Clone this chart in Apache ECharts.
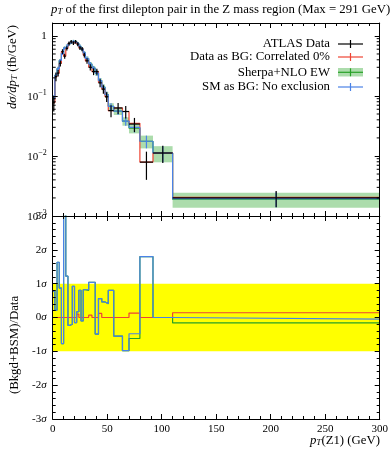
<!DOCTYPE html>
<html><head><meta charset="utf-8">
<script src="https://cdn.jsdelivr.net/npm/echarts@6/dist/echarts.min.js"></script>
<style>html,body{margin:0;padding:0;background:#fff}#c{width:392px;height:450px}</style>
</head><body><div id="c"></div>
<script>
// ---- data ----
const binEdges = [0,2,4,6,8,10,12,14,16,18,20,22,24,26,28,30,33,36,39,42,45,48,51,56,64,70,80,92,110,300];
const dataValues = [0.077,0.21,0.24,0.35,0.55,0.46,0.62,0.75,0.80,0.76,0.80,0.73,0.63,0.605,0.48,0.385,0.30,0.255,0.255,0.165,0.13,0.097,0.057,0.063,0.055,0.034,0.0079,0.0112,0.0020];
const dataErrors = [0.022,0.035,0.03,0.04,0.05,0.045,0.05,0.055,0.055,0.055,0.055,0.055,0.05,0.05,0.045,0.04,0.036,0.033,0.03,0.025,0.021,0.018,0.013,0.013,0.013,0.009,0.0039,0.0036,0.0006];
const dataAsBGValues = [0.077,0.21,0.24,0.35,0.55,0.46,0.62,0.75,0.80,0.76,0.80,0.735,0.63,0.605,0.48,0.385,0.302,0.255,0.255,0.168,0.13,0.097,0.057,0.063,0.055,0.035,0.0079,0.0112,0.00205];
const sherpaValues = [0.093,0.22,0.285,0.39,0.51,0.63,0.68,0.74,0.79,0.81,0.79,0.74,0.67,0.60,0.52,0.42,0.34,0.29,0.24,0.18,0.14,0.105,0.067,0.056,0.038,0.029,0.0176,0.0112,0.0019];
const sherpaRelErr = [0.1,0.08,0.07,0.06,0.06,0.06,0.06,0.06,0.06,0.06,0.06,0.06,0.07,0.07,0.07,0.08,0.08,0.09,0.1,0.1,0.11,0.12,0.13,0.14,0.16,0.18,0.24,0.3,0.28];
const smValues = [0.093,0.22,0.285,0.39,0.51,0.63,0.68,0.74,0.79,0.81,0.79,0.74,0.67,0.60,0.52,0.42,0.34,0.29,0.24,0.18,0.14,0.105,0.067,0.056,0.038,0.030,0.0176,0.0112,0.00195];
const smRelErr = [0.1,0.08,0.07,0.06,0.06,0.06,0.06,0.06,0.06,0.06,0.06,0.06,0.07,0.07,0.07,0.08,0.08,0.09,0.1,0.1,0.11,0.12,0.13,0.14,0.16,0.18,0.24,0.3,0.28];
const sigmaDataBG = [0,0,0,0,0,0,0,0,0,0,0,0.1,0,0,0,0,0.07,0,0,0.12,0,0,0,0,0,0.13,0,0,0.14];
const sigmaSherpa = [0.78,0.22,1.63,0.87,-0.77,3.6,1.22,-0.23,-0.2,0.92,-0.15,0.17,0.8,-0.1,0.82,0.8,1.04,1.04,-0.49,0.56,0.46,0.41,0.8,-0.55,-0.98,-0.62,1.8,0.0,-0.16];
const sigmaSM = [0.78,0.22,1.63,0.87,-0.77,3.6,1.22,-0.23,-0.2,0.92,-0.15,0.17,0.8,-0.1,0.82,0.82,1.04,1.04,-0.49,0.56,0.46,0.41,0.8,-0.55,-0.98,-0.48,1.8,0.0,-0.05];
const xTicks = [0,50,100,150,200,250,300];
const sigmaTicks = [-3,-2,-1,0,1,2,3];
const minorLogTicks = [0.002,0.003,0.004,0.005,0.006,0.007,0.008,0.009,0.02,0.03,0.04,0.05,0.06,0.07,0.08,0.09,0.2,0.3,0.4,0.5,0.6,0.7,0.8,0.9];

const FONT = 'Liberation Serif';
const FS = 12.8;
const C_BLUE = '#4a82e6', C_RED = '#ee4433', C_GREEN = '#27a127', C_BAND = '#acdcac';

function stepData(vals){ return binEdges.map((e,i)=>[e, vals[Math.min(i, vals.length-1)]]); }
function stepSeries(vals, color, xi, yi, z){
  return {type:'line', step:'end', xAxisIndex:xi, yAxisIndex:yi, data:stepData(vals), symbol:'none',
    lineStyle:{color:color, width:1.2}, itemStyle:{color:color}, z:z, silent:true, animation:false, clip:true};
}
const binsItems = (vals, rel) => vals.map((v,i)=>[binEdges[i], binEdges[i+1], v, v*(1-rel[i]), v*(1+rel[i])]);

const chart = echarts.init(document.getElementById('c'), null, {renderer:'canvas'});

const axisLine = {show:true, onZero:false, lineStyle:{color:'#000', width:1}};
function xAx(grid, pos, labels){
  return {gridIndex:grid, type:'value', min:0, max:300, interval:50, position:pos, z:10,
    axisLine:axisLine, axisTick:{show:true, inside:true, length:5, lineStyle:{color:'#000'}},
    minorTick:{show:true, splitNumber:5, length:3, lineStyle:{color:'#000'}},
    splitLine:{show:false}, minorSplitLine:{show:false},
    axisLabel:{show:labels, color:'#000', fontFamily:FONT, fontSize:11, margin:5,
      formatter: v => xTicks.indexOf(v) >= 0 ? String(v) : ''}};
}
function logAx(pos, labels){
  return {gridIndex:0, type:'log', logBase:10, min:0.001, max:1.64, position:pos, z:10,
    axisLine:axisLine, axisTick:{show:true, inside:true, length:5, lineStyle:{color:'#000'}},
    splitLine:{show:false},
    axisLabel:{show:labels, color:'#000', fontFamily:FONT, fontSize:11, margin:6,
      formatter: function(v){
        const l = Math.log10(v), e = Math.round(l);
        if (Math.abs(l-e) > 1e-6) return '';
        if (e === 0) return '1';
        return '{b|10}{s|\u2212' + (-e) + '}';
      },
      rich:{b:{fontFamily:FONT, fontSize:11, color:'#000', lineHeight:14, verticalAlign:'bottom'},
            s:{fontFamily:FONT, fontSize:8, color:'#000', lineHeight:14, verticalAlign:'top'}}}};
}
function sigAx(pos, labels){
  return {gridIndex:1, type:'value', min:-3, max:3, interval:1, position:pos, z:10,
    axisLine:axisLine, axisTick:{show:true, inside:true, length:5, lineStyle:{color:'#000'}},
    minorTick:{show:true, splitNumber:5, length:3, lineStyle:{color:'#000'}},
    splitLine:{show:false}, minorSplitLine:{show:false},
    axisLabel:{show:labels, color:'#000', fontFamily:FONT, fontSize:11, margin:6,
      formatter: v => sigmaTicks.indexOf(v) >= 0 ? '{n|' + String(v) + '}{s|\u03c3}' : '',
      rich:{n:{fontFamily:FONT, fontSize:11, color:'#000'}, s:{fontFamily:FONT, fontStyle:'italic', fontSize:11, color:'#000'}}}};
}

function minorTickRender(side){
  return function(params, api){
    const p = api.coord([side === 'left' ? 0 : 300, api.value(1)]);
    const d = side === 'left' ? 3 : -3;
    return {type:'line', shape:{x1:p[0], y1:p[1], x2:p[0]+d, y2:p[1]}, style:{stroke:'#000', lineWidth:1}};
  };
}
function bandRender(color){
  return function(params, api){
    const a = api.coord([api.value(0), api.value(4)]), b = api.coord([api.value(1), api.value(3)]);
    return {type:'rect', shape:{x:a[0], y:a[1], width:b[0]-a[0], height:b[1]-a[1]}, style:{fill:color}};
  };
}
function crossRender(color, withH){
  return function(params, api){
    const x0 = api.value(0), x1 = api.value(1), v = api.value(2);
    const xc = (x0 + x1) / 2;
    const lo = api.coord([xc, api.value(3)]), hi = api.coord([xc, api.value(4)]);
    const ch = [{type:'line', shape:{x1:lo[0], y1:lo[1], x2:hi[0], y2:hi[1]}, style:{stroke:color, lineWidth:1.2}}];
    if (withH){
      const l = api.coord([x0, v]), r = api.coord([x1, v]);
      ch.push({type:'line', shape:{x1:l[0], y1:l[1], x2:r[0], y2:r[1]}, style:{stroke:color, lineWidth:1.2}});
    }
    return {type:'group', children:ch};
  };
}

const dataItems = dataValues.map((v,i)=>[binEdges[i], binEdges[i+1], v, v - dataErrors[i], v + dataErrors[i]]);
const richPT = {i:{fontFamily:FONT, fontStyle:'italic', fontSize:FS, fill:'#000'}, sub:{fontFamily:FONT, fontStyle:'italic', fontSize:9, fill:'#000', verticalAlign:'bottom', padding:[4,0,0,0]}, n:{fontFamily:FONT, fontSize:FS, fill:'#000'}};

const option = {
  animation:false,
  backgroundColor:'#fff',
  grid:[{left:52.7, top:23, width:327, height:193}, {left:52.7, top:216, width:327, height:203}],
  xAxis:[xAx(0,'bottom',false), xAx(0,'top',false), xAx(1,'bottom',true), xAx(1,'top',false)],
  yAxis:[logAx('left',true), logAx('right',false), sigAx('left',true), sigAx('right',false)],
  series:[
    {type:'custom', xAxisIndex:0, yAxisIndex:0, data:binsItems(sherpaValues, sherpaRelErr), encode:{x:[0,1], y:[2,3,4]}, renderItem:bandRender(C_BAND), z:1, silent:true},
    stepSeries(sherpaValues, C_GREEN, 0, 0, 3),
    stepSeries(dataAsBGValues, C_RED, 0, 0, 4),
    stepSeries(smValues, C_BLUE, 0, 0, 5),
    {type:'custom', xAxisIndex:0, yAxisIndex:0, data:binsItems(smValues, smRelErr), encode:{x:[0,1], y:[2,3,4]}, renderItem:crossRender(C_BLUE,false), z:5, silent:true},
    {type:'custom', xAxisIndex:0, yAxisIndex:0, data:dataItems, encode:{x:[0,1], y:[2,3,4]}, renderItem:crossRender('#000',true), z:6, silent:true},
    {type:'custom', xAxisIndex:0, yAxisIndex:0, data:minorLogTicks.map(v=>[0,v]), encode:{x:0, y:1}, renderItem:minorTickRender('left'), z:11, silent:true},
    {type:'custom', xAxisIndex:0, yAxisIndex:0, data:minorLogTicks.map(v=>[300,v]), encode:{x:0, y:1}, renderItem:minorTickRender('right'), z:11, silent:true},
    // ratio panel
    {type:'custom', xAxisIndex:2, yAxisIndex:2, data:[[0,300,0,-1,1]], encode:{x:[0,1], y:[3,4]}, renderItem:bandRender('#ffff00'), z:1, silent:true},
    stepSeries(sigmaDataBG, C_RED, 2, 2, 4),
    stepSeries(sigmaSherpa, C_GREEN, 2, 2, 3),
    stepSeries(sigmaSM, C_BLUE, 2, 2, 5)
  ],
  graphic:[
    {type:'text', left:51, top:3, style:{text:'{i|p}{sub|T}{n| of the first dilepton pair in the Z mass region (Max = 291 GeV)}', rich:richPT}},
    {type:'text', x:12.5, y:67, rotation:Math.PI/2, style:{text:'{i|d\u03c3/dp}{sub|T}{n| (fb/GeV)}', align:'center', verticalAlign:'middle', rich:richPT}},
    {type:'text', x:15, y:345, rotation:Math.PI/2, style:{text:'(Bkgd+BSM)/Data', align:'center', verticalAlign:'middle', fontFamily:FONT, fontSize:FS, fill:'#000'}},
    {type:'text', x:380, y:441, style:{text:'{i|p}{sub|T}{n|(Z1) (GeV)}', align:'right', verticalAlign:'middle', rich:richPT}},
    // legend
    {type:'text', x:330, y:44, style:{text:'ATLAS Data', align:'right', verticalAlign:'middle', fontFamily:FONT, fontSize:FS, fill:'#000'}},
    {type:'text', x:330, y:57, style:{text:'Data as BG: Correlated 0%', align:'right', verticalAlign:'middle', fontFamily:FONT, fontSize:FS, fill:'#000'}},
    {type:'text', x:330, y:72.3, style:{text:'Sherpa+NLO EW', align:'right', verticalAlign:'middle', fontFamily:FONT, fontSize:FS, fill:'#000'}},
    {type:'text', x:330, y:87, style:{text:'SM as BG: No exclusion', align:'right', verticalAlign:'middle', fontFamily:FONT, fontSize:FS, fill:'#000'}},
    {type:'line', shape:{x1:338, y1:44, x2:363, y2:44}, style:{stroke:'#000', lineWidth:1.2}},
    {type:'line', shape:{x1:350.5, y1:40, x2:350.5, y2:48}, style:{stroke:'#000', lineWidth:1.2}},
    {type:'line', shape:{x1:338, y1:57, x2:363, y2:57}, style:{stroke:C_RED, lineWidth:1.2}},
    {type:'line', shape:{x1:350.5, y1:53, x2:350.5, y2:61}, style:{stroke:C_RED, lineWidth:1.2}},
    {type:'rect', shape:{x:338, y:68, width:25, height:8.5}, style:{fill:C_BAND}},
    {type:'line', shape:{x1:338, y1:72.3, x2:363, y2:72.3}, style:{stroke:C_GREEN, lineWidth:1.2}},
    {type:'line', shape:{x1:350.5, y1:68.3, x2:350.5, y2:76.3}, style:{stroke:C_GREEN, lineWidth:1.2}},
    {type:'line', shape:{x1:338, y1:87, x2:363, y2:87}, style:{stroke:C_BLUE, lineWidth:1.2}},
    {type:'line', shape:{x1:350.5, y1:83, x2:350.5, y2:91}, style:{stroke:C_BLUE, lineWidth:1.2}}
  ]
};
chart.setOption(option);
</script>
</body></html>
